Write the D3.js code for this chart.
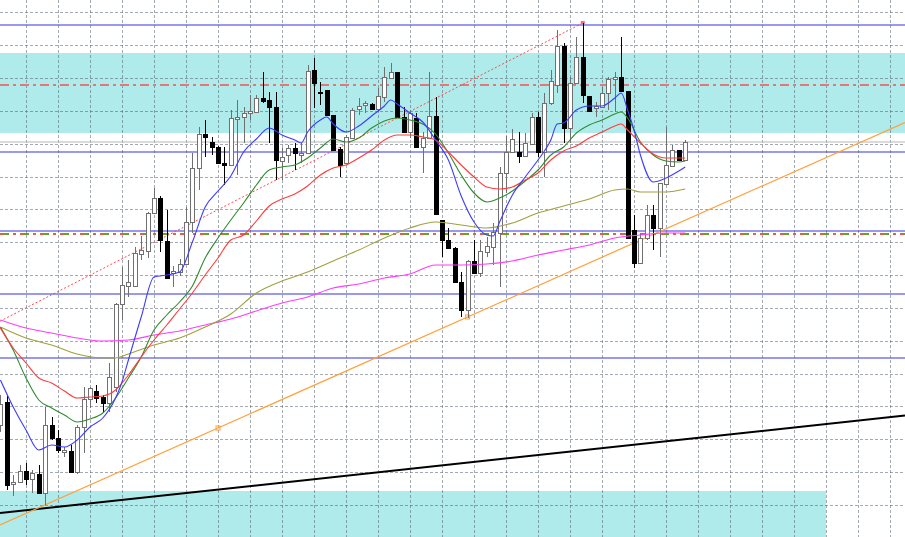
<!DOCTYPE html>
<html><head><meta charset="utf-8">
<script src="https://cdn.jsdelivr.net/npm/d3@7"></script>
<style>html,body{margin:0;padding:0;background:#fff;overflow:hidden}svg{display:block}</style>
</head><body><svg id="c" width="905" height="537"></svg>
<script>
// ---- data (prices) ----
const candleOpen = [
108.75,108.98,108.16,108.18,108.29,108.21,108.26,108.07,108.75,108.62,
108.48,108.49,108.28,108.73,109.01,109.09,109.03,108.97,109.13,109.96,
110.14,110.14,110.46,110.49,110.87,111.02,110.59,110.27,110.28,110.36,
110.78,111.32,111.66,111.58,111.53,111.37,111.35,111.81,111.83,111.87,
111.88,112.02,112.00,111.93,111.39,111.45,111.52,111.45,111.47,112.30,
112.08,112.10,111.85,111.51,111.37,111.62,111.91,111.95,111.96,111.91,
112.03,112.22,112.28,111.83,111.68,111.82,111.53,111.62,111.84,110.80,
110.60,110.52,110.18,109.90,110.39,110.27,110.48,110.53,110.67,111.27,
111.48,111.48,111.44,111.56,111.83,111.48,111.97,112.15,112.54,111.72,
112.17,112.43,112.04,111.92,111.93,112.07,112.21,112.23,112.09,110.70,
110.37,110.62,110.85,110.72,111.16,111.34,111.50,111.40];
const candleHigh = [
109.05,109.05,108.25,108.35,108.37,108.30,108.35,108.93,108.83,108.70,
108.53,108.55,108.75,109.13,109.13,109.15,109.05,109.37,109.97,110.33,
110.40,110.53,110.64,110.88,111.12,111.04,110.90,110.34,110.41,110.93,
111.47,111.73,111.80,111.63,111.54,111.53,111.90,112.00,111.93,112.05,
112.05,112.28,112.08,112.08,111.52,111.55,111.57,111.57,112.35,112.42,
112.18,112.10,111.85,111.53,111.65,111.92,112.02,111.99,111.97,112.12,
112.33,112.37,112.28,111.93,111.90,111.87,111.68,112.28,112.03,110.80,
110.72,110.53,110.28,110.40,110.60,110.60,110.63,110.77,111.33,111.64,
111.71,111.68,111.67,111.87,111.88,112.07,112.30,112.70,112.57,112.23,
112.63,112.77,112.04,111.98,112.13,112.23,112.28,112.63,112.09,110.85,
110.67,110.95,110.95,111.17,111.73,111.55,111.50,111.60];
const candleLow = [
108.68,108.10,108.04,108.17,108.15,108.07,108.07,107.95,108.60,108.47,
108.43,108.27,108.26,108.47,108.92,108.97,108.88,108.88,109.08,109.80,
110.03,110.13,110.40,110.42,110.86,110.48,110.22,110.13,110.24,110.36,
110.67,111.10,111.43,111.45,111.37,111.15,111.35,111.25,111.57,111.80,
111.88,111.97,111.57,111.20,111.20,111.37,111.30,111.37,111.47,111.92,
111.95,111.85,111.50,111.23,111.36,111.62,111.85,111.87,111.90,111.88,
111.98,112.22,111.83,111.68,111.62,111.53,111.27,111.62,110.86,110.43,
110.52,110.18,109.83,109.82,110.27,110.23,110.43,110.35,110.13,111.07,
111.48,111.37,111.44,111.56,111.43,111.23,111.95,112.07,111.57,111.57,
112.17,111.97,111.89,111.83,111.93,111.90,111.88,112.09,110.62,110.32,
110.37,110.60,110.50,110.43,111.16,111.34,111.40,111.40];
const candleClose = [
108.96,108.15,108.18,108.29,108.21,108.27,108.07,108.75,108.62,108.50,
108.50,108.28,108.73,109.01,109.12,109.02,108.97,109.23,109.96,110.15,
110.18,110.47,110.50,110.87,111.02,110.60,110.22,110.29,110.36,110.78,
111.32,111.66,111.63,111.53,111.37,111.35,111.82,111.83,111.87,111.89,
112.02,111.99,111.93,111.40,111.43,111.52,111.47,111.47,112.29,112.17,
112.07,111.85,111.50,111.35,111.63,111.90,111.94,111.97,111.91,112.04,
112.23,112.28,111.83,111.68,111.87,111.53,111.62,111.84,110.86,110.60,
110.52,110.18,109.90,110.39,110.27,110.49,110.54,110.68,111.27,111.48,
111.61,111.44,111.57,111.83,111.48,111.97,112.19,112.54,111.72,112.17,
112.43,112.05,111.89,111.94,112.07,112.21,112.23,112.09,110.62,110.37,
110.62,110.85,110.72,111.17,111.35,111.50,111.40,111.58];

// moving averages: [bar index, value]
const maBlue = [[0,109.20],[2,108.93],[4,108.70],[6,108.50],[8,108.55],[10,108.53],[12,108.60],[14,108.73],[16,108.82],[18,109.02],[19,109.18],[20,109.40],[22,109.83],[24,110.23],[26,110.25],[28,110.28],[30,110.58],[32,110.93],[34,111.09],[36,111.24],[38,111.48],[40,111.61],[42,111.72],[44,111.65],[46,111.60],[47,111.57],[48,111.68],[50,111.80],[51,111.83],[52,111.76],[54,111.68],[56,111.74],[58,111.84],[60,111.94],[61,112.00],[62,111.96],[64,111.87],[66,111.78],[68,111.60],[70,111.40],[72,111.04],[74,110.78],[76,110.65],[77,110.64],[78,110.78],[80,111.05],[82,111.23],[84,111.40],[86,111.60],[87,111.76],[88,111.77],[90,111.90],[92,111.94],[94,111.94],[96,112.02],[97,112.07],[98,111.90],[99,111.70],[100,111.45],[102,111.18],[104,111.22],[106,111.29],[107,111.33]];
const maRed = [[0,109.72],[2,109.52],[4,109.37],[6,109.22],[8,109.17],[10,109.09],[12,109.02],[14,109.03],[16,109.04],[18,109.10],[20,109.25],[22,109.43],[24,109.60],[26,109.75],[28,109.91],[30,110.07],[32,110.25],[34,110.42],[36,110.60],[38,110.65],[40,110.79],[42,110.94],[44,111.01],[46,111.06],[48,111.14],[50,111.25],[52,111.32],[54,111.35],[56,111.42],[58,111.50],[60,111.60],[62,111.65],[64,111.65],[66,111.63],[68,111.60],[70,111.48],[72,111.35],[74,111.23],[76,111.13],[78,111.11],[80,111.13],[82,111.20],[84,111.27],[86,111.40],[88,111.49],[90,111.54],[92,111.62],[94,111.68],[96,111.74],[97,111.76],[98,111.70],[100,111.57],[102,111.46],[104,111.42],[106,111.42],[107,111.42]];
const maGreen = [[0,109.73],[2,109.50],[4,109.22],[6,109.00],[8,108.92],[10,108.85],[12,108.78],[14,108.81],[16,108.87],[18,109.02],[20,109.22],[22,109.43],[24,109.70],[26,109.85],[28,109.98],[30,110.14],[32,110.42],[34,110.62],[36,110.80],[38,110.97],[40,111.15],[42,111.30],[44,111.33],[46,111.35],[48,111.42],[50,111.52],[52,111.61],[54,111.58],[56,111.62],[58,111.72],[60,111.79],[62,111.82],[64,111.80],[66,111.76],[68,111.66],[70,111.47],[72,111.25],[74,111.07],[76,110.98],[78,111.02],[80,111.09],[82,111.19],[84,111.30],[86,111.45],[88,111.53],[90,111.67],[92,111.75],[94,111.80],[96,111.86],[97,111.88],[98,111.82],[100,111.58],[102,111.45],[104,111.39],[106,111.38],[107,111.39]];
const maOlive = [[0,109.73],[4,109.62],[8,109.55],[12,109.46],[16,109.42],[18,109.42],[20,109.46],[24,109.55],[28,109.62],[32,109.73],[36,109.86],[40,110.07],[44,110.19],[48,110.28],[52,110.39],[56,110.50],[60,110.62],[64,110.72],[68,110.78],[72,110.75],[76,110.72],[80,110.77],[84,110.87],[88,110.94],[92,111.01],[96,111.10],[98,111.11],[100,111.08],[104,111.08],[107,111.11]];
const maMagenta = [[0,109.80],[4,109.72],[8,109.67],[12,109.62],[16,109.59],[20,109.60],[24,109.65],[28,109.69],[32,109.75],[36,109.81],[40,109.89],[44,109.97],[48,110.03],[52,110.12],[56,110.16],[60,110.22],[64,110.26],[68,110.35],[72,110.35],[76,110.36],[80,110.39],[84,110.45],[88,110.50],[92,110.55],[96,110.62],[100,110.65],[104,110.67],[107,110.67]];

// horizontal levels, zones and trend lines
const blueLevels = [112.75, 111.48, 110.69, 110.06, 109.42];
const redDashLevel = 112.15;
const mixedDashLevel = 110.66;
const grayLevel = 111.58;
const zoneTop = [112.47, 111.67];
const zoneBottom = [108.09, 107.63];
const zoneBottomEnd = 129;
const orangeLine = [[34, 108.72], [73, 109.83]];
const blackLine = [[0, 107.87], [100, 108.56]];
const redDotted = [[0, 109.79], [91, 112.77]];

// ---- drawing ----
const W = 905, H = 537;
const svg = d3.select('#c');
const x = d3.scaleLinear().domain([0, 100]).range([0.4, 640.4]);
const y = d3.scaleLinear().domain([107.63, 113]).range([H, 0]);
const iMin = x.invert(0), iMax = x.invert(W);

// zones
svg.append('rect').attr('x', 0).attr('width', W)
  .attr('y', y(zoneTop[0])).attr('height', y(zoneTop[1]) - y(zoneTop[0]))
  .attr('fill', '#afebeb');
svg.append('rect').attr('x', 0).attr('width', x(zoneBottomEnd))
  .attr('y', y(zoneBottom[0])).attr('height', y(zoneBottom[1]) - y(zoneBottom[0]) + 2)
  .attr('fill', '#afebeb');

// grid
const gridLevels = d3.range(0, 17).map(k => 112.877 - 0.3285 * k);
const gridBars = d3.range(4, 142, 5);
const grid = svg.append('g').attr('stroke', '#4a5566').attr('stroke-opacity', 0.5)
  .attr('stroke-dasharray', '3,2').attr('shape-rendering', 'crispEdges');
grid.selectAll('.h').data(gridLevels).join('line')
  .attr('x1', 0).attr('x2', W)
  .attr('y1', d => Math.round(y(d)) + 0.5).attr('y2', d => Math.round(y(d)) + 0.5);
grid.selectAll('.v').data(gridBars).join('line')
  .attr('y1', 0).attr('y2', H)
  .attr('x1', d => Math.round(x(d)) + 0.5).attr('x2', d => Math.round(x(d)) + 0.5);

// gray line
svg.append('line').attr('x1', 0).attr('x2', W)
  .attr('y1', y(grayLevel)).attr('y2', y(grayLevel))
  .attr('stroke', '#b8b8b8').attr('stroke-width', 1.2);

// blue levels
svg.selectAll('.bl').data(blueLevels).join('line')
  .attr('x1', 0).attr('x2', W)
  .attr('y1', d => y(d)).attr('y2', d => y(d))
  .attr('stroke', '#3434dc').attr('stroke-width', 1.1);

// dash-dot levels
svg.append('line').attr('x1', 0).attr('x2', W)
  .attr('y1', y(redDashLevel)).attr('y2', y(redDashLevel))
  .attr('stroke', '#e07a7a').attr('stroke-width', 2).attr('stroke-dasharray', '9,4,3,4');
svg.append('line').attr('x1', 0).attr('x2', W)
  .attr('y1', y(mixedDashLevel)).attr('y2', y(mixedDashLevel))
  .attr('stroke', '#e0604a').attr('stroke-width', 2).attr('stroke-dasharray', '9,4,3,4');
svg.append('line').attr('x1', 0).attr('x2', W)
  .attr('y1', y(mixedDashLevel)).attr('y2', y(mixedDashLevel))
  .attr('stroke', '#6e9e2a').attr('stroke-width', 2).attr('stroke-dasharray', '5,15').attr('stroke-dashoffset', -4);

// trend lines
function lineAt(pts, i) {
  const [a, b] = pts; const s = (b[1] - a[1]) / (b[0] - a[0]);
  return a[1] + s * (i - a[0]);
}
svg.append('line')
  .attr('x1', x(iMin)).attr('y1', y(lineAt(blackLine, iMin)))
  .attr('x2', x(iMax)).attr('y2', y(lineAt(blackLine, iMax)))
  .attr('stroke', '#000').attr('stroke-width', 2);
svg.append('line')
  .attr('x1', x(iMin)).attr('y1', y(lineAt(orangeLine, iMin)))
  .attr('x2', x(iMax)).attr('y2', y(lineAt(orangeLine, iMax)))
  .attr('stroke', '#ffa03c').attr('stroke-width', 1.2);
svg.selectAll('.om').data(orangeLine).join('rect')
  .attr('x', d => x(d[0]) - 2).attr('y', d => y(d[1]) - 2)
  .attr('width', 4).attr('height', 4)
  .attr('fill', 'none').attr('stroke', '#ffa03c').attr('stroke-width', 1);
svg.append('line')
  .attr('x1', x(iMin)).attr('y1', y(lineAt(redDotted, iMin)))
  .attr('x2', x(redDotted[1][0])).attr('y2', y(redDotted[1][1]))
  .attr('stroke', '#ff4a4a').attr('stroke-width', 1).attr('stroke-dasharray', '2,2');
svg.append('rect')
  .attr('x', x(redDotted[1][0]) - 2).attr('y', y(redDotted[1][1]) - 2)
  .attr('width', 4).attr('height', 3).attr('fill', '#ff6a6a');

// candles
const bars = candleOpen.map((o, i) => ({i, o, h: candleHigh[i], l: candleLow[i], c: candleClose[i]}));
const bw = 5;
const cg = svg.append('g').attr('shape-rendering', 'crispEdges');
cg.selectAll('.wick').data(bars).join('line')
  .attr('x1', d => Math.round(x(d.i)) + 0.5).attr('x2', d => Math.round(x(d.i)) + 0.5)
  .attr('y1', d => y(d.h)).attr('y2', d => y(d.l))
  .attr('stroke', d => d.c >= d.o ? '#707070' : '#000');
cg.selectAll('.body').data(bars).join('rect')
  .attr('x', d => Math.round(x(d.i)) - 2 + 0.5)
  .attr('y', d => y(Math.max(d.o, d.c)) + 0.5)
  .attr('width', bw - 1)
  .attr('height', d => Math.max(1, Math.abs(y(d.o) - y(d.c))))
  .attr('fill', d => d.c >= d.o ? '#fff' : '#000')
  .attr('stroke', d => d.c >= d.o ? '#707070' : '#000');

// moving averages
const mk = d3.line().x(d => x(d[0])).y(d => y(d[1])).curve(d3.curveMonotoneX);
[[maMagenta, '#ff3cff'], [maOlive, '#a0a040'], [maGreen, '#2e8b2e'], [maRed, '#ff3c3c'], [maBlue, '#3c3cff']]
  .forEach(([data, col]) => {
    svg.append('path').datum(data).attr('d', mk)
      .attr('fill', 'none').attr('stroke', col).attr('stroke-width', 1.1);
  });
</script>
</body></html>
